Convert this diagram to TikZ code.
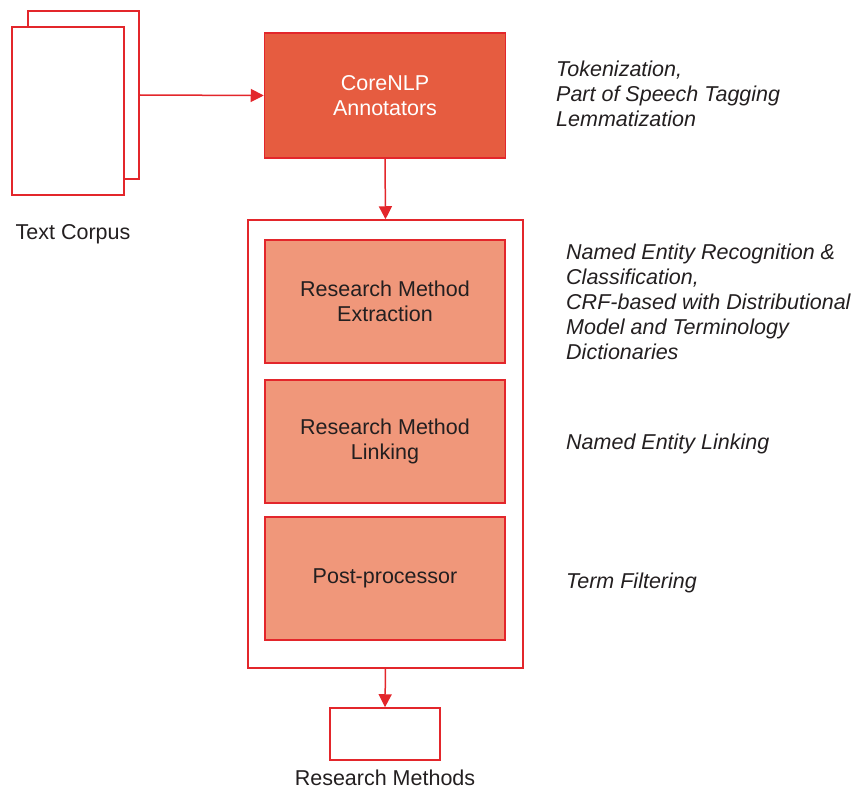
\documentclass[tikz,border=0pt]{standalone}
\usepackage{fontspec}
\setmainfont{Liberation Sans}
\usetikzlibrary{arrows.meta}
\definecolor{lred}{HTML}{E3262B}
\definecolor{corefill}{HTML}{E65C40}
\definecolor{innerfill}{HTML}{F0977A}
\definecolor{txt}{HTML}{231F20}
\begin{document}
\begin{tikzpicture}[x=1pt,y=-1pt,
  box/.style={draw=lred,line width=1.5pt,inner sep=0pt,align=center,font=\fontsize{21.5}{25}\selectfont},
  lbl/.style={text=txt,font=\fontsize{21.5}{25}\selectfont,inner sep=0pt,anchor=base},
  note/.style={text=txt,font=\fontsize{21.5}{25}\selectfont\itshape,inner sep=0pt,align=left,anchor=base west},
  arr/.style={draw=lred,line width=1.5pt,-{Triangle[length=13pt,width=13pt]}}]
\useasboundingbox (0,0) rectangle (855,789);
% documents
\node[box,fill=white,minimum width=111pt,minimum height=168pt] (back) at (83.5,95) {};
\node[box,fill=white,minimum width=112pt,minimum height=168pt] (front) at (68,111) {};
\node[lbl] (corpus) at (73,240) {Text Corpus};
% CoreNLP
\node[box,fill=corefill,text=white,minimum width=241pt,minimum height=125pt] (core) at (385,95.5) {CoreNLP\\Annotators};
% outer container
\node[box,fill=white,minimum width=275pt,minimum height=448pt] (outer) at (385.5,444) {};
\node[box,fill=innerfill,text=txt,minimum width=240pt,minimum height=123pt] (rme) at (385,301.5) {Research Method\\Extraction};
\node[box,fill=innerfill,text=txt,minimum width=240pt,minimum height=123pt] (rml) at (385,441.5) {Research Method\\Linking};
\node[box,fill=innerfill,text=txt,minimum width=240pt,minimum height=123pt] (pp) at (385,578.5) {Post-processor};
% output
\node[box,fill=white,minimum width=110pt,minimum height=52pt] (out) at (385,734) {};
\node[lbl] (outlbl) at (385,785) {Research Methods};
% arrows
\draw[arr] (back.east) -- (core.west);
\draw[arr] (core.south) -- (outer.north);
\draw[arr] (outer.south) -- (out.north);
% notes (base anchor = baseline of last line)
\node[note] (n1) at (556,127) {Tokenization,\\Part of Speech Tagging\\Lemmatization};
\node[note] (n2) at (566,359) {Named Entity Recognition \&\\Classification,\\CRF-based with Distributional\\Model and Terminology\\Dictionaries};
\node[note] (n3) at (566,449) {Named Entity Linking};
\node[note] (n4) at (566,588) {Term Filtering};
\end{tikzpicture}
\end{document}
